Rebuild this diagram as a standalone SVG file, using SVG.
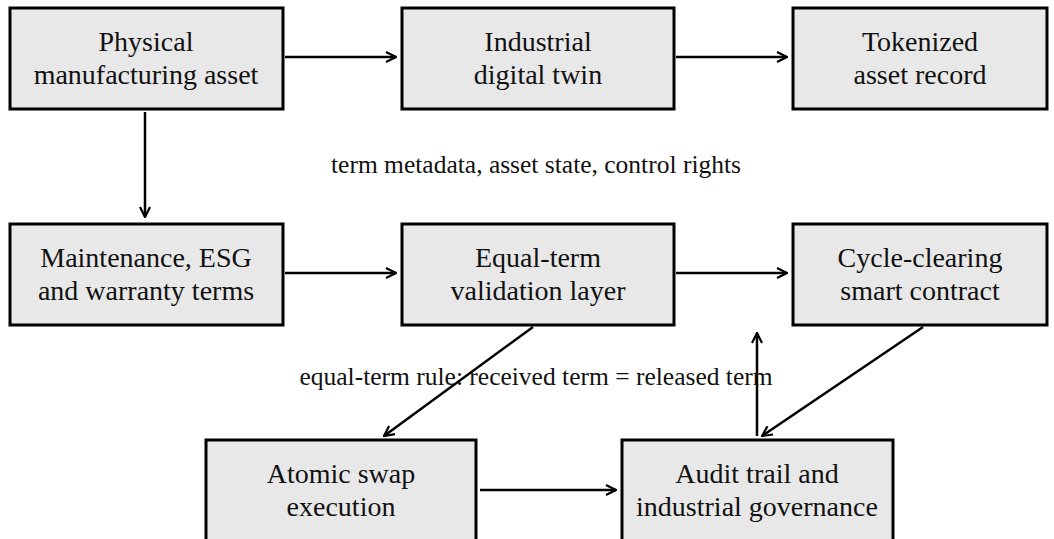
<svg xmlns="http://www.w3.org/2000/svg" width="1054" height="539" viewBox="0 0 1054 539">
<defs>
<style>
.box{fill:#e8e8e8;stroke:#000;stroke-width:3}
.t{font-family:"Liberation Serif","Times New Roman",serif;font-size:28px;fill:#111;text-anchor:middle}
.lbl{font-family:"Liberation Serif","Times New Roman",serif;font-size:25.5px;fill:#111;text-anchor:middle}
.c{stroke:#000;stroke-width:2.5;fill:none;marker-end:url(#ah)}
</style>
<marker id="ah" viewBox="0 0 12 12" refX="11" refY="6" markerWidth="12" markerHeight="12" markerUnits="userSpaceOnUse" orient="auto">
<path d="M1,1 L11,6 L1,11" fill="none" stroke="#000" stroke-width="2.2"/>
</marker>
</defs>
<rect width="1054" height="539" fill="#fff"/>
<g id="connectors">
<line class="c" x1="285" y1="57" x2="396" y2="57"/>
<line class="c" x1="676" y1="57" x2="787" y2="57"/>
<line class="c" x1="145" y1="112" x2="145" y2="217"/>
<line class="c" x1="285" y1="273" x2="396" y2="273"/>
<line class="c" x1="676" y1="273" x2="787" y2="273"/>
<line class="c" x1="533" y1="327" x2="384" y2="436"/>
<line class="c" x1="923" y1="327" x2="762" y2="436"/>
<line class="c" x1="757" y1="436" x2="757" y2="333"/>
<line class="c" x1="480" y1="490" x2="616" y2="490"/>
<text class="lbl" x="536" y="173">term metadata, asset state, control rights</text>
<text class="lbl" x="536" y="385">equal-term rule: received term = released term</text>
</g>
<g id="n1"><rect class="box" x="10" y="8" width="273" height="101"/><text class="t" x="146" y="51">Physical</text><text class="t" x="146" y="84">manufacturing asset</text></g>
<g id="n2"><rect class="box" x="402" y="8" width="272" height="101"/><text class="t" x="538" y="51">Industrial</text><text class="t" x="538" y="84">digital twin</text></g>
<g id="n3"><rect class="box" x="793" y="8" width="254" height="101"/><text class="t" x="920" y="51">Tokenized</text><text class="t" x="920" y="84">asset record</text></g>
<g id="n4"><rect class="box" x="10" y="224" width="273" height="101"/><text class="t" x="146" y="267">Maintenance, ESG</text><text class="t" x="146" y="300">and warranty terms</text></g>
<g id="n5"><rect class="box" x="402" y="224" width="272" height="101"/><text class="t" x="538" y="267">Equal-term</text><text class="t" x="538" y="300">validation layer</text></g>
<g id="n6"><rect class="box" x="793" y="224" width="254" height="101"/><text class="t" x="920" y="267">Cycle-clearing</text><text class="t" x="920" y="300">smart contract</text></g>
<g id="n7"><rect class="box" x="206" y="440" width="270" height="110"/><text class="t" x="341" y="483">Atomic swap</text><text class="t" x="341" y="516">execution</text></g>
<g id="n8"><rect class="box" x="622" y="440" width="271" height="110"/><text class="t" x="757" y="483">Audit trail and</text><text class="t" x="757" y="516">industrial governance</text></g>
</svg>
